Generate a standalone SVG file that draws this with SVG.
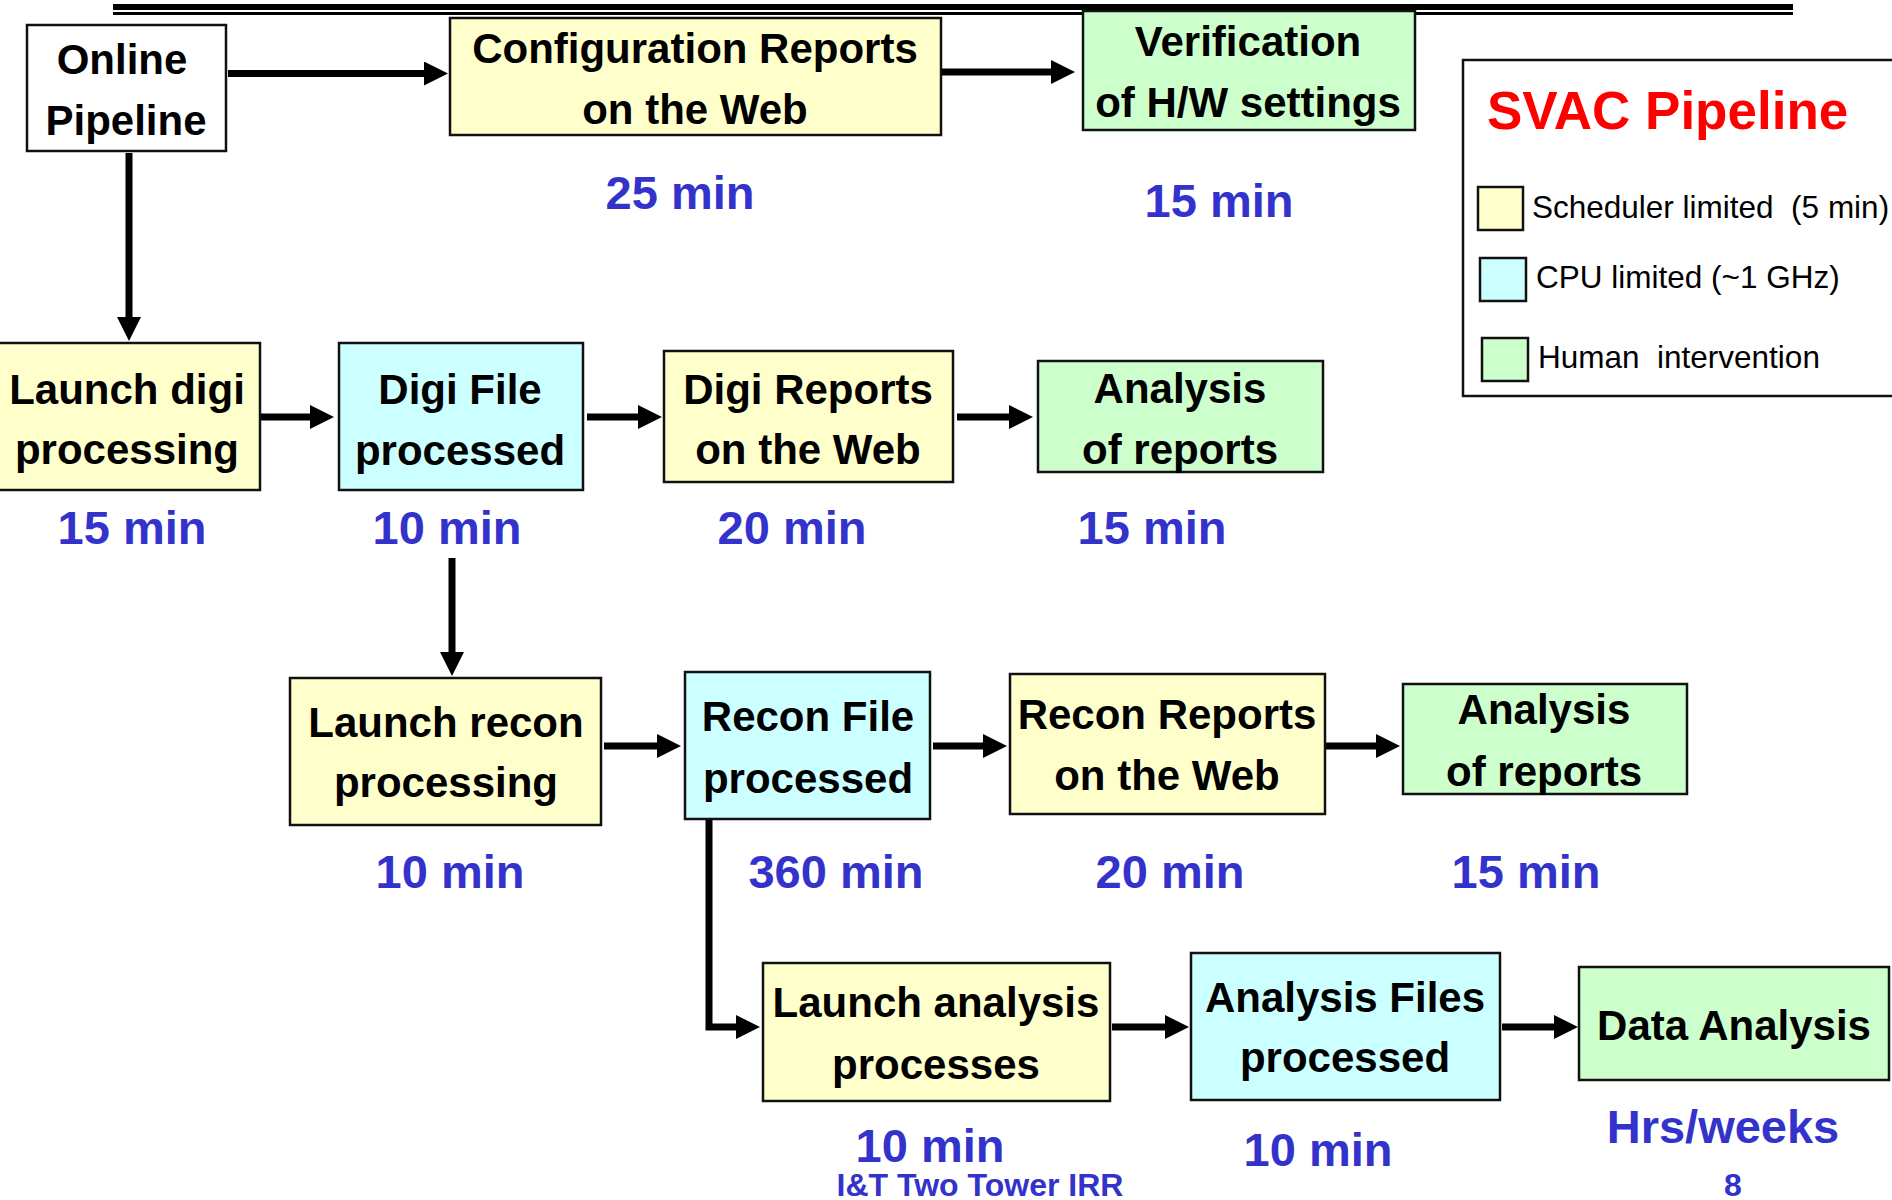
<svg xmlns="http://www.w3.org/2000/svg" width="1892" height="1200" viewBox="0 0 1892 1200">
<style>
.box{stroke:#111;stroke-width:2.5}
.y{fill:#FFFFCC}.c{fill:#CCFFFF}.g{fill:#CCFFCC}.w{fill:#FFFFFF}
.t{font-family:"Liberation Sans",Arial,sans-serif;font-weight:bold;font-size:42px;fill:#000;text-anchor:middle}
.tm{font-family:"Liberation Sans",Arial,sans-serif;font-weight:bold;font-size:47px;fill:#3333CC;text-anchor:middle}
.ft{font-family:"Liberation Sans",Arial,sans-serif;font-weight:bold;font-size:32px;fill:#3333CC;text-anchor:middle}
.lg{font-family:"Liberation Sans",Arial,sans-serif;font-size:31.5px;fill:#000;white-space:pre}
.conn{stroke:#000;stroke-width:7;fill:none;marker-end:url(#ah)}
</style>
<defs>
<marker id="ah" viewBox="0 0 24 24" markerWidth="24" markerHeight="24" refX="2" refY="12" markerUnits="userSpaceOnUse" orient="auto">
<path d="M0,0 L24,12 L0,24 z" fill="#000"/>
</marker>
</defs>
<rect width="1892" height="1200" fill="#fff"/>
<g id="header-rule">
<line x1="113" y1="7" x2="1793" y2="7" stroke="#000" stroke-width="6"/>
<line x1="113" y1="13.5" x2="1793" y2="13.5" stroke="#000" stroke-width="3"/>
</g>
<g id="connectors">
<path class="conn" d="M228,73.5 H426"/>
<path class="conn" d="M942,72 H1053"/>
<path class="conn" d="M129,153 V319"/>
<path class="conn" d="M261,417 H312"/>
<path class="conn" d="M587,417 H640"/>
<path class="conn" d="M957,417 H1011"/>
<path class="conn" d="M452,558 V654"/>
<path class="conn" d="M604,746 H659"/>
<path class="conn" d="M933,746 H985"/>
<path class="conn" d="M1326,746 H1378"/>
<path class="conn" d="M709,815 V1027 H738"/>
<path class="conn" d="M1112,1027 H1167"/>
<path class="conn" d="M1502,1027 H1556"/>
</g>
<g id="online-pipeline">
<rect class="box w" x="27" y="25" width="199" height="126"/>
<text class="t" x="122" y="74">Online</text>
<text class="t" x="126" y="135">Pipeline</text>
</g>
<g id="config-reports">
<rect class="box y" x="450" y="18" width="491" height="117"/>
<text class="t" x="695" y="63">Configuration Reports</text>
<text class="t" x="695" y="124">on the Web</text>
</g>
<g id="verification">
<rect class="box g" x="1083" y="11" width="332" height="119"/>
<text class="t" x="1248" y="56">Verification</text>
<text class="t" x="1248" y="117">of H/W settings</text>
</g>
<g id="launch-digi">
<rect class="box y" x="-3" y="343" width="263" height="147"/>
<text class="t" x="127" y="404">Launch digi</text>
<text class="t" x="127" y="464">processing</text>
</g>
<g id="digi-file">
<rect class="box c" x="339" y="343" width="244" height="147"/>
<text class="t" x="460" y="404">Digi File</text>
<text class="t" x="460" y="465">processed</text>
</g>
<g id="digi-reports">
<rect class="box y" x="664" y="351" width="289" height="131"/>
<text class="t" x="808" y="404">Digi Reports</text>
<text class="t" x="808" y="464">on the Web</text>
</g>
<g id="analysis-digi">
<rect class="box g" x="1038" y="361" width="285" height="111"/>
<text class="t" x="1180" y="403">Analysis</text>
<text class="t" x="1180" y="464">of reports</text>
</g>
<g id="launch-recon">
<rect class="box y" x="290" y="678" width="311" height="147"/>
<text class="t" x="446" y="737">Launch recon</text>
<text class="t" x="446" y="797">processing</text>
</g>
<g id="recon-file">
<rect class="box c" x="685" y="672" width="245" height="147"/>
<text class="t" x="808" y="731">Recon File</text>
<text class="t" x="808" y="793">processed</text>
</g>
<g id="recon-reports">
<rect class="box y" x="1010" y="674" width="315" height="140"/>
<text class="t" x="1167" y="729">Recon Reports</text>
<text class="t" x="1167" y="790">on the Web</text>
</g>
<g id="analysis-recon">
<rect class="box g" x="1403" y="684" width="284" height="110"/>
<text class="t" x="1544" y="724">Analysis</text>
<text class="t" x="1544" y="786">of reports</text>
</g>
<g id="launch-analysis">
<rect class="box y" x="763" y="963" width="347" height="138"/>
<text class="t" x="936" y="1017">Launch analysis</text>
<text class="t" x="936" y="1079">processes</text>
</g>
<g id="analysis-files">
<rect class="box c" x="1191" y="953" width="309" height="147"/>
<text class="t" x="1345" y="1012">Analysis Files</text>
<text class="t" x="1345" y="1072">processed</text>
</g>
<g id="data-analysis">
<rect class="box g" x="1579" y="967" width="310" height="113"/>
<text class="t" x="1734" y="1040">Data Analysis</text>
</g>
<g id="durations">
<text class="tm" x="680" y="209">25 min</text>
<text class="tm" x="1219" y="217">15 min</text>
<text class="tm" x="132" y="544">15 min</text>
<text class="tm" x="447" y="544">10 min</text>
<text class="tm" x="792" y="544">20 min</text>
<text class="tm" x="1152" y="544">15 min</text>
<text class="tm" x="450" y="888">10 min</text>
<text class="tm" x="836" y="888">360 min</text>
<text class="tm" x="1170" y="888">20 min</text>
<text class="tm" x="1526" y="888">15 min</text>
<text class="tm" x="930" y="1162">10 min</text>
<text class="tm" x="1318" y="1166">10 min</text>
<text class="tm" x="1723" y="1143">Hrs/weeks</text>
</g>
<g id="legend">
<rect x="1463" y="60" width="460" height="336" fill="#fff" stroke="#111" stroke-width="2.5"/>
<text x="1487" y="129" font-family="Liberation Sans, Arial, sans-serif" font-weight="bold" font-size="53" fill="#FF0000">SVAC Pipeline</text>
<rect class="box y" x="1478" y="187" width="45" height="43"/>
<text class="lg" x="1532" y="218">Scheduler limited  (5 min)</text>
<rect class="box c" x="1480" y="258" width="46" height="43"/>
<text class="lg" x="1536" y="288">CPU limited (~1 GHz)</text>
<rect class="box g" x="1482" y="338" width="46" height="43"/>
<text class="lg" x="1538" y="368">Human  intervention</text>
</g>
<g id="footer">
<text class="ft" x="980" y="1196">I&amp;T Two Tower IRR</text>
<text class="ft" x="1733" y="1196">8</text>
</g>
</svg>
